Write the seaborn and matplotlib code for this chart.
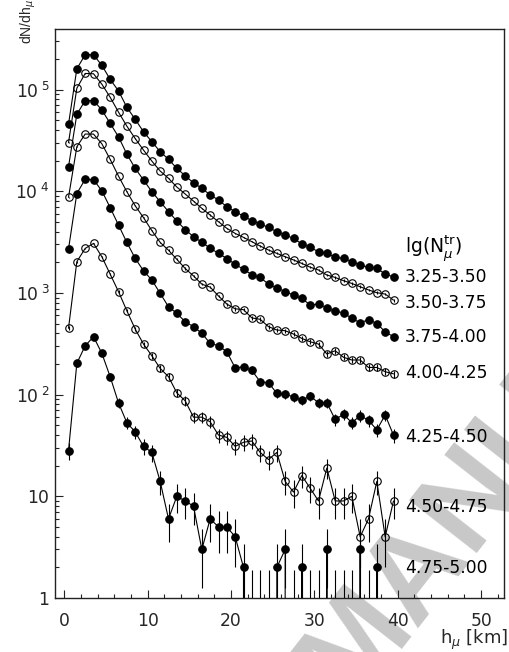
import numpy as np
import pandas as pd
import matplotlib
matplotlib.use("Agg")
import matplotlib.pyplot as plt
from matplotlib.ticker import FixedLocator, FuncFormatter, MultipleLocator, LogLocator, NullFormatter
import seaborn as sns

# Muon production height distributions, one curve per lg(N_mu^tr) bin
h_km = [0.5, 1.5, 2.5, 3.5, 4.5, 5.5, 6.5, 7.5, 8.5, 9.5,
        10.5, 11.5, 12.5, 13.5, 14.5, 15.5, 16.5, 17.5, 18.5, 19.5,
        20.5, 21.5, 22.5, 23.5, 24.5, 25.5, 26.5, 27.5, 28.5, 29.5,
        30.5, 31.5, 32.5, 33.5, 34.5, 35.5, 36.5, 37.5, 38.5, 39.5]

bin_labels = ["3.25-3.50", "3.50-3.75", "3.75-4.00", "4.00-4.25",
              "4.25-4.50", "4.50-4.75", "4.75-5.00"]

dn_325_350 = [45500, 160000, 220000, 220000, 173000, 126000, 97000, 67000, 51000, 38500,
              30700, 24500, 20600, 16800, 14200, 12100, 10700, 9200, 8200, 7040,
              6290, 5700, 5130, 4760, 4410, 4000, 3710, 3440, 3030, 2810,
              2540, 2480, 2240, 2190, 2030, 1880, 1790, 1750, 1530, 1440]
dn_350_375 = [30000, 103000, 144000, 143000, 113000, 84000, 60000, 43700, 33000, 25400,
              19800, 15800, 13400, 11000, 9400, 8000, 6790, 5830, 5010, 4320,
              3850, 3520, 3190, 2890, 2640, 2450, 2270, 2110, 1950, 1790,
              1680, 1500, 1420, 1320, 1240, 1150, 1070, 1005, 975, 850]
dn_375_400 = [17400, 57000, 78000, 78000, 63000, 46500, 34300, 23200, 16800, 12900,
              9900, 7900, 6300, 5100, 4200, 3570, 3150, 2750, 2450, 2180,
              1910, 1710, 1510, 1420, 1220, 1120, 1030, 953, 885, 760,
              778, 714, 660, 638, 562, 509, 545, 500, 415, 371]
dn_400_425 = [8700, 27400, 36500, 36500, 29300, 20600, 14100, 9900, 7200, 5500,
              4100, 3140, 2630, 2140, 1740, 1470, 1220, 1140, 933, 777,
              698, 685, 568, 550, 466, 432, 425, 394, 357, 331,
              314, 251, 270, 233, 219, 219, 185, 185, 168, 160]
dn_425_450 = [2700, 9500, 13100, 13000, 10100, 6900, 4650, 3140, 2190, 1650,
              1340, 991, 731, 630, 521, 466, 401, 319, 303, 264,
              183, 188, 173, 134, 131, 103, 101, 95, 88, 97,
              83, 83, 57, 64, 53, 62, 56, 45, 63, 40]
dn_450_475 = [449, 2030, 2740, 3070, 2270, 1530, 1030, 668, 442, 314,
              241, 181, 150, 104, 87, 60, 60, 54, 40, 38,
              31, 34, 35, 27, 23, 27, 14, 11, 16, 12,
              9, 19, 9, 9, 10, 4, 6, 14, 4, 9]
dn_475_500 = [28, 203, 302, 371, 255, 150, 83, 53, 43, 31,
              27, 14, 6, 10, 9, 8, 3, 6, 5, 5,
              4, 2, 0, 0, 0, 2, 3, 0, 2, 0,
              0, 3, 0, 0, 0, 3, 0, 2, 0, 0]

series = [dn_325_350, dn_350_375, dn_375_400, dn_400_425,
          dn_425_450, dn_450_475, dn_475_500]
filled = [True, False, True, False, True, False, True]

# Poisson upper limit drawn for empty bins inside the shower range
empty_bin_upper = 1.9
empty_bin_range = (22.0, 37.0)

# y positions of the bin labels on the right
label_y = [1443, 801, 371, 163, 38.5, 7.9, 1.96]
title_y = 2736
label_x = 40.9

sns.set_style("ticks")
plt.rcParams["font.family"] = ["DejaVu Sans"]
plt.rcParams["mathtext.fontset"] = "dejavusans"

fig = plt.figure(figsize=(5.09, 6.52), dpi=100)
ax = fig.add_axes([55 / 509, 1 - 598 / 652, (503.5 - 55) / 509, (598 - 29) / 652])
ax.set_facecolor("none")
ax.set_yscale("log", nonpositive="clip")
ax.set_xlim(-1.12, 52.7)
ax.set_ylim(1, 3.94e5)

df = pd.DataFrame({"h": h_km})
for name, vals in zip(bin_labels, series):
    df[name] = vals

for name, full in zip(bin_labels, filled):
    vals = df[name].to_numpy(dtype=float)
    sns.lineplot(data=df, x="h", y=name, ax=ax, estimator=None, sort=False,
                 color="black", linewidth=0.8, marker="o", markersize=5.4,
                 markerfacecolor="black" if full else "none",
                 markeredgecolor="black", markeredgewidth=0.8,
                 clip_on=True, zorder=3)
    err = np.sqrt(vals)
    lower = np.minimum(err, vals)
    upper = err.copy()
    hv = df["h"].to_numpy()
    empty = (vals == 0) & (hv > empty_bin_range[0]) & (hv < empty_bin_range[1])
    upper[empty] = empty_bin_upper
    keep = (vals > 0) | empty
    ax.errorbar(hv[keep], vals[keep], yerr=[lower[keep], upper[keep]], fmt="none",
                ecolor="black", elinewidth=0.8, capsize=0, zorder=2)

for name, y in zip(bin_labels, label_y):
    ax.text(label_x, y, name, ha="left", va="center", fontsize=12.3, color="black")
ax.text(label_x, title_y, r"lg(N$_{\mu}^{\mathrm{tr}}$)", ha="left", va="center",
        fontsize=13.5, color="black")

ax.set_xlabel("")
ax.set_ylabel("")

# axis ticks
ax.xaxis.set_major_locator(FixedLocator([0, 10, 20, 30, 40, 50]))
ax.xaxis.set_minor_locator(MultipleLocator(2))
ax.yaxis.set_major_locator(LogLocator(base=10, numticks=10))
ax.yaxis.set_minor_locator(LogLocator(base=10, subs=np.arange(2, 10), numticks=20))
ax.yaxis.set_minor_formatter(NullFormatter())


def decade_label(v, pos):
    e = int(round(np.log10(v)))
    if e == 0:
        return "1"
    if e == 1:
        return "10"
    return r"10$^{\;%d}$" % e


ax.yaxis.set_major_formatter(FuncFormatter(decade_label))
ax.tick_params(which="both", direction="in", top=False, right=False,
               color="#222222", width=0.8, labelsize=12.3)
ax.tick_params(which="major", length=6)
ax.tick_params(which="minor", length=3)
ax.tick_params(axis="x", which="major", pad=10)
ax.tick_params(axis="y", which="major", pad=4)

for s in ax.spines.values():
    s.set_visible(True)
    s.set_color("#222222")
    s.set_linewidth(1.0)

fig.text(508 / 509, 1 - 640 / 652, r"h$_{\mu}$ [km]", ha="right", va="center",
         fontsize=13)
fig.text(28.5 / 509, 1 - 44 / 652, r"dN/dh$_{\mu}$", rotation=90, ha="center",
         va="bottom", fontsize=10, family=["Liberation Sans", "DejaVu Sans"])

# faint diagonal watermark
fig.text(350 / 509, 1 - 705 / 652, "MANUSCRIPT", rotation=52, rotation_mode="anchor",
         ha="left", va="baseline", fontsize=90, fontweight="bold",
         color="#c8c8c8", zorder=-1, family=["Liberation Sans", "DejaVu Sans"])

fig.savefig("out.png", dpi=100)
